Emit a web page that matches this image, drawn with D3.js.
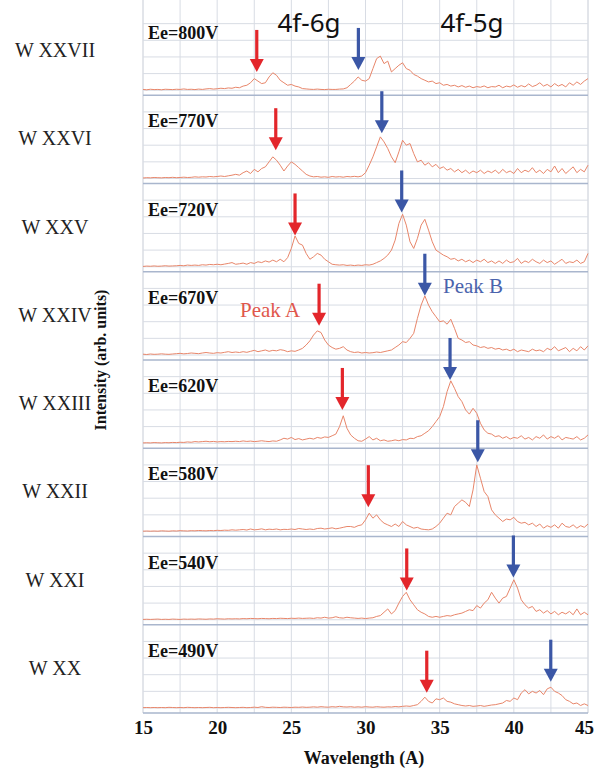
<!DOCTYPE html>
<html><head><meta charset="utf-8">
<script src="https://cdn.jsdelivr.net/npm/d3@7"></script>
<style>body{margin:0;background:#fff}svg{display:block}</style>
</head><body>
<svg id="c" width="594" height="771"></svg>
<script>
// ---------- data ----------
const wavelengthStart = 15, wavelengthStep = 0.25;
const xTicks = [15, 20, 25, 30, 35, 40, 45];
const ions = ["W XXVII", "W XXVI", "W XXV", "W XXIV", "W XXIII", "W XXII", "W XXI", "W XX"];
const energies = ["Ee=800V", "Ee=770V", "Ee=720V", "Ee=670V", "Ee=620V", "Ee=580V", "Ee=540V", "Ee=490V"];

const spec800 = [0.05,0.03,0.06,0.04,0.05,0.03,0.06,0.05,0.04,0.06,0.05,0.08,0.05,0.06,0.04,0.07,0.05,0.08,0.1,0.07,0.09,0.12,0.1,0.14,0.12,
 0.18,0.15,0.25,0.3,0.45,0.7,0.55,0.4,0.45,0.8,1.05,0.9,0.6,0.45,0.3,0.35,0.25,0.2,0.1,0.08,
 0.06,0.05,0.07,0.05,0.04,0.06,0.05,0.05,0.07,0.08,0.15,
 0.35,0.55,0.8,0.6,0.55,0.7,1.3,1.9,2.05,1.6,1.75,1.1,1.3,1.5,1.65,1.3,1.2,0.95,0.85,0.7,
 0.6,0.5,0.55,0.4,0.45,0.3,0.35,0.25,0.3,0.2,0.28,0.18,0.25,0.15,0.22,0.18,0.26,0.15,0.22,0.2,
 0.3,0.15,0.25,0.2,0.32,0.18,0.28,0.2,0.38,0.22,0.3,0.45,0.25,0.35,0.2,0.4,0.25,0.35,0.2,0.45,0.3,0.5,0.35,0.55,0.7];
const spec770 = [0.03,0.05,0.04,0.06,0.05,0.04,0.06,0.05,0.07,0.05,0.06,0.08,0.06,0.07,0.1,0.08,0.1,0.09,0.12,0.1,0.12,0.15,0.12,0.16,0.2,
 0.25,0.2,0.35,0.45,0.3,0.55,0.4,0.6,0.7,1.0,1.3,1.1,0.8,0.45,0.75,1.0,0.85,0.65,0.45,0.25,
 0.15,0.1,0.12,0.08,0.1,0.07,0.12,0.09,0.11,0.08,0.12,
 0.1,0.13,0.1,0.15,0.35,0.8,1.3,1.9,2.5,2.2,1.8,1.3,0.95,1.6,2.3,2.0,2.1,1.5,1.0,1.1,
 0.8,0.95,0.7,0.85,0.6,0.7,0.5,0.6,0.4,0.55,0.35,0.5,0.3,0.45,0.35,0.5,0.3,0.45,0.35,0.5,
 0.3,0.55,0.35,0.45,0.3,0.6,0.35,0.5,0.4,0.65,0.35,0.5,0.3,0.55,0.4,0.75,0.35,0.6,0.3,0.5,0.7,0.35,0.55,0.4,0.8];
const spec720 = [0.02,0.04,0.03,0.05,0.03,0.04,0.06,0.04,0.05,0.06,0.08,0.06,0.1,0.08,0.1,0.08,0.12,0.1,0.14,0.12,0.15,0.12,0.16,0.2,0.25,
 0.15,0.18,0.22,0.15,0.25,0.2,0.3,0.25,0.35,0.28,0.4,0.3,0.45,0.3,0.55,1.1,1.85,1.4,1.3,0.8,
 0.45,0.6,0.8,0.7,0.45,0.3,0.15,0.12,0.1,0.12,0.08,
 0.1,0.07,0.1,0.08,0.12,0.1,0.15,0.25,0.35,0.5,0.7,1.0,1.6,2.6,3.15,2.5,1.5,1.1,1.7,2.5,
 2.85,2.2,1.5,1.0,0.85,0.7,0.6,0.45,0.5,0.35,0.45,0.3,0.4,0.25,0.4,0.3,0.45,0.25,0.35,0.2,
 0.35,0.2,0.4,0.25,0.3,0.5,0.2,0.35,0.25,0.45,0.3,0.2,0.4,0.25,0.35,0.15,0.3,0.45,0.2,0.3,0.25,0.4,0.2,0.3,0.8];
const spec670 = [0.05,0.03,0.06,0.04,0.05,0.07,0.05,0.04,0.06,0.08,0.1,0.07,0.09,0.12,0.1,0.08,0.12,0.15,0.12,0.1,0.14,0.12,0.16,0.2,0.15,
 0.18,0.15,0.2,0.16,0.22,0.28,0.2,0.25,0.3,0.22,0.28,0.25,0.32,0.28,0.2,0.25,0.22,0.3,0.4,0.6,
 0.85,1.2,1.45,1.35,0.9,0.6,0.45,0.35,0.4,0.5,0.3,
 0.2,0.15,0.18,0.12,0.15,0.12,0.14,0.18,0.15,0.2,0.25,0.3,0.45,0.6,0.8,0.75,1.0,1.3,2.2,3.0,
 3.55,3.0,2.6,2.3,2.0,2.05,1.85,2.15,1.6,1.0,0.9,0.75,0.8,0.6,0.55,0.45,0.5,0.4,0.45,0.35,
 0.4,0.3,0.35,0.25,0.35,0.2,0.3,0.25,0.2,0.35,0.25,0.3,0.2,0.4,0.3,0.5,0.25,0.35,0.45,0.2,0.4,0.25,0.5,0.3,0.55];
const spec620 = [0.02,0.03,0.02,0.04,0.03,0.02,0.04,0.03,0.05,0.04,0.06,0.05,0.08,0.06,0.1,0.08,0.1,0.12,0.09,0.11,0.08,0.1,0.09,0.11,0.1,
 0.12,0.1,0.14,0.11,0.13,0.1,0.12,0.15,0.12,0.1,0.14,0.12,0.2,0.3,0.25,0.35,0.22,0.28,0.2,0.25,
 0.3,0.25,0.35,0.3,0.38,0.35,0.45,0.55,1.0,1.65,0.9,
 0.5,0.3,0.15,0.12,0.25,0.4,0.2,0.3,0.15,0.2,0.12,0.15,0.2,0.15,0.22,0.2,0.3,0.28,0.4,0.45,
 0.6,0.75,1.0,1.3,1.6,2.2,3.1,3.75,3.3,2.8,2.5,2.0,1.75,2.1,1.8,1.2,0.8,0.6,0.55,0.4,
 0.45,0.3,0.4,0.25,0.35,0.3,0.45,0.25,0.35,0.2,0.4,0.3,0.5,0.25,0.4,0.3,0.45,0.2,0.35,0.3,0.25,0.4,0.2,0.3,0.5];
const spec580 = [0.02,0.03,0.02,0.03,0.02,0.04,0.03,0.02,0.04,0.03,0.05,0.04,0.03,0.05,0.04,0.06,0.05,0.04,0.06,0.05,0.07,0.06,0.08,0.07,0.1,
 0.08,0.1,0.12,0.09,0.15,0.1,0.12,0.16,0.1,0.14,0.12,0.15,0.1,0.13,0.12,0.15,0.12,0.18,0.15,0.12,
 0.15,0.12,0.18,0.2,0.15,0.18,0.22,0.16,0.2,0.25,0.3,
 0.3,0.25,0.35,0.4,0.7,1.1,0.8,1.0,0.7,0.5,0.4,0.3,0.45,0.3,0.6,0.4,0.3,0.2,0.25,0.15,
 0.12,0.1,0.15,0.3,0.5,0.8,1.1,1.0,1.5,1.7,1.9,1.75,1.5,2.5,4.0,3.2,2.4,2.1,1.3,1.0,
 0.8,0.6,0.75,0.7,0.85,0.6,0.5,0.55,0.4,0.5,0.3,0.45,0.2,0.35,0.25,0.4,0.2,0.5,0.3,0.25,0.4,0.2,0.35,0.25,0.45];
const spec540 = [0.02,0.03,0.02,0.03,0.04,0.02,0.03,0.02,0.04,0.03,0.02,0.04,0.03,0.04,0.03,0.05,0.04,0.03,0.05,0.04,0.06,0.05,0.04,0.06,0.05,
 0.06,0.05,0.07,0.06,0.08,0.07,0.06,0.08,0.07,0.06,0.08,0.07,0.09,0.08,0.07,0.09,0.08,0.1,0.08,0.09,
 0.1,0.08,0.12,0.1,0.15,0.1,0.12,0.18,0.12,0.1,0.15,
 0.12,0.1,0.08,0.1,0.07,0.1,0.12,0.2,0.25,0.45,0.65,0.35,0.55,1.0,1.4,1.65,1.2,0.9,0.6,0.45,
 0.35,0.2,0.15,0.2,0.15,0.2,0.25,0.22,0.3,0.35,0.4,0.5,0.6,0.55,0.85,0.7,1.0,1.2,1.65,1.3,
 1.0,1.3,1.4,1.9,2.4,1.9,1.2,0.9,0.7,0.8,0.5,0.6,0.4,0.55,0.35,0.5,0.3,0.45,0.35,0.5,0.3,0.65,0.3,0.45,0.3];
const spec490 = [0.02,0.03,0.02,0.03,0.02,0.03,0.02,0.04,0.03,0.02,0.03,0.02,0.04,0.03,0.02,0.03,0.02,0.03,0.04,0.02,0.03,0.02,0.03,0.04,0.03,
 0.02,0.03,0.04,0.02,0.03,0.05,0.03,0.08,0.04,0.03,0.05,0.04,0.03,0.05,0.04,0.03,0.05,0.04,0.06,0.04,
 0.05,0.07,0.05,0.08,0.06,0.05,0.08,0.06,0.1,0.07,0.06,
 0.08,0.05,0.07,0.05,0.08,0.06,0.05,0.08,0.06,0.05,0.07,0.06,0.09,0.07,0.1,0.12,0.1,0.15,0.2,0.4,
 0.65,0.4,0.3,0.55,0.5,0.6,0.4,0.35,0.25,0.2,0.15,0.12,0.15,0.1,0.12,0.15,0.1,0.14,0.18,0.2,
 0.25,0.3,0.45,0.4,0.6,0.5,0.9,1.1,0.85,1.0,0.9,1.05,0.8,1.15,1.25,1.0,0.9,0.75,0.5,0.4,0.25,0.3,0.15,0.25,0.15];
const spectra = [spec800, spec770, spec720, spec670, spec620, spec580, spec540, spec490];

const peakA = [22.67, 23.95, 25.25, 26.87, 28.44, 30.19, 32.78, 34.13];
const peakATip = [1.1, 1.7, 1.88, 1.76, 2.0, 1.46, 1.76, 0.92];
const peakB = [29.52, 31.1, 32.44, 34.0, 35.7, 37.57, 39.97, 42.49];
const peakBTip = [1.22, 2.72, 3.26, 3.56, 3.8, 4.16, 2.54, 1.58];

// ---------- layout ----------
const plotLeft = 143, plotRight = 588, plotTop = 7, plotBottom = 713;
const nP = spectra.length, ph = (plotBottom - plotTop) / nP;
const serif = "'Liberation Serif','Times New Roman',serif";
const gridColor = "#d8dce4", frameColor = "#a9b6cd", traceColor = "#e8866a";
const redC = "#e3262b", blueC = "#3b57a6";

const x = d3.scaleLinear().domain([15, 45]).range([plotLeft, plotRight]);
const y = d3.scaleLinear().domain([-0.3, 5]).range([ph, 0]);
const svg = d3.select("#c");

// vertical gridlines
const vg = [];
for (let v = 15; v <= 45.001; v += 2.5) vg.push(v);
svg.append("g").selectAll("line").data(vg).join("line")
  .attr("x1", d => x(d)).attr("x2", d => x(d))
  .attr("y1", 0).attr("y2", plotBottom)
  .attr("stroke", (d, i) => (i === 0 || i === vg.length - 1) ? "#c6cbd5" : gridColor)
  .attr("stroke-width", 1);

const line = d3.line()
  .x((d, i) => x(wavelengthStart + i * wavelengthStep))
  .y(d => y(d));

spectra.forEach((s, k) => {
  const top = plotTop + k * ph;
  const g = svg.append("g").attr("transform", `translate(0,${top})`);
  g.selectAll("line.h").data([0, 1, 2, 3, 4]).join("line").attr("class", "h")
    .attr("x1", plotLeft).attr("x2", plotRight)
    .attr("y1", d => y(d)).attr("y2", d => y(d))
    .attr("stroke", gridColor).attr("stroke-width", 1);
  g.append("line").attr("x1", plotLeft).attr("x2", plotRight)
    .attr("y1", ph).attr("y2", ph).attr("stroke", frameColor).attr("stroke-width", 1.3);
  g.append("path").datum(s).attr("d", line)
    .attr("fill", "none").attr("stroke", traceColor).attr("stroke-width", 1);
  g.append("text").attr("x", 148).attr("y", 32).text(energies[k])
    .attr("font-family", serif).attr("font-weight", "bold").attr("font-size", 18).attr("fill", "#111");
  g.append("text").attr("x", 55).attr("y", 50).attr("text-anchor", "middle").text(ions[k])
    .attr("font-family", serif).attr("font-size", 20).attr("fill", "#222");
  // arrows
  [[peakA[k], peakATip[k], redC], [peakB[k], peakBTip[k], blueC]].forEach(([px, pt, col]) => {
    const tx = x(px), ty = y(pt);
    g.append("rect").attr("x", tx - 1.6).attr("y", ty - 42).attr("width", 3.2).attr("height", 32).attr("fill", col);
    g.append("path").attr("d", `M${tx - 7},${ty - 13} L${tx + 7},${ty - 13} L${tx},${ty} Z`).attr("fill", col);
  });
});

// x axis
const ax = svg.append("g").attr("transform", `translate(0,${plotBottom})`)
  .call(d3.axisBottom(x).tickValues(xTicks).tickSize(0).tickPadding(8));
ax.select(".domain").remove();
ax.selectAll("text").attr("font-family", serif).attr("font-weight", "bold").attr("font-size", 19).attr("fill", "#111")
  .attr("dx", d => d === 45 ? -4 : 0);

svg.append("text").attr("x", 364).attr("y", 764).attr("text-anchor", "middle").text("Wavelength (A)")
  .attr("font-family", serif).attr("font-weight", "bold").attr("font-size", 18).attr("fill", "#111");
svg.append("text").attr("transform", "translate(106,360) rotate(-90)").attr("text-anchor", "middle")
  .text("Intensity (arb. units)")
  .attr("font-family", serif).attr("font-weight", "bold").attr("font-size", 16).attr("fill", "#111");

// annotations
svg.append("text").attr("x", 309).attr("y", 32).attr("text-anchor", "middle").text("4f-6g")
  .attr("font-family", "'Noto Sans','Open Sans',sans-serif").attr("font-size", 26).attr("fill", "#111");
svg.append("text").attr("x", 472).attr("y", 32).attr("text-anchor", "middle").text("4f-5g")
  .attr("font-family", "'Noto Sans','Open Sans',sans-serif").attr("font-size", 26).attr("fill", "#111");
svg.append("text").attr("x", 240).attr("y", 317).text("Peak A")
  .attr("font-family", serif).attr("font-size", 21).attr("fill", "#e0574c");
svg.append("text").attr("x", 443).attr("y", 293).text("Peak B")
  .attr("font-family", serif).attr("font-size", 21).attr("fill", "#4a63ad");
</script>
</body></html>
